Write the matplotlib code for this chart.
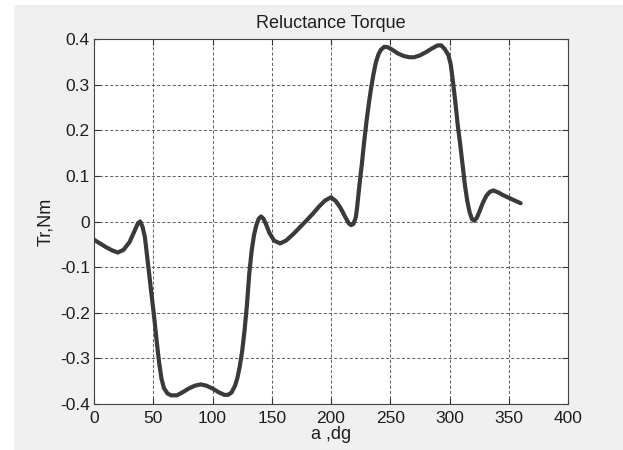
import numpy as np
import matplotlib
matplotlib.use("Agg")
import matplotlib.pyplot as plt
from matplotlib.patches import Rectangle

# Rotor angle (deg) and reluctance torque (Nm)
angle = [0, 5, 10, 15, 20, 25, 30, 34, 37, 39, 41, 43, 45, 47, 49, 51, 53, 55,
         57, 59, 62, 65, 70, 75, 80, 85, 90, 95, 100, 105, 110, 113, 116, 119,
         121, 123, 125, 127, 129, 131, 133, 135, 137, 139, 141, 143, 145, 148,
         152, 157, 162, 168, 174, 180, 185, 190, 195, 200, 204, 208, 212, 215,
         217, 219, 221, 222, 224, 226, 228, 230, 232, 234, 236, 238, 240, 242,
         245, 248, 252, 256, 261, 266, 270, 275, 280, 285, 290, 293, 296, 299,
         301, 303, 305, 307, 309, 311, 313, 315, 317, 319, 321, 323, 325, 328,
         331, 334, 337, 341, 345, 350, 355, 360]
torque = [-0.040, -0.048, -0.056, -0.063, -0.068, -0.062, -0.045, -0.022,
          -0.004, 0.000, -0.012, -0.035, -0.080, -0.125, -0.170, -0.215,
          -0.265, -0.310, -0.345, -0.365, -0.377, -0.381, -0.381, -0.374,
          -0.366, -0.360, -0.357, -0.360, -0.366, -0.374, -0.380, -0.380,
          -0.375, -0.360, -0.343, -0.318, -0.285, -0.240, -0.185, -0.115,
          -0.065, -0.030, -0.008, 0.006, 0.011, 0.006, -0.005, -0.025,
          -0.042, -0.048, -0.042, -0.028, -0.012, 0.004, 0.018, 0.033, 0.046,
          0.053, 0.045, 0.030, 0.010, -0.004, -0.008, -0.005, 0.010, 0.030,
          0.080, 0.125, 0.175, 0.220, 0.260, 0.295, 0.325, 0.350, 0.366,
          0.376, 0.383, 0.382, 0.376, 0.369, 0.363, 0.360, 0.360, 0.364,
          0.371, 0.379, 0.386, 0.386, 0.378, 0.365, 0.345, 0.305, 0.260,
          0.210, 0.170, 0.125, 0.080, 0.045, 0.020, 0.005, 0.002, 0.008,
          0.020, 0.040, 0.056, 0.065, 0.068, 0.064, 0.058, 0.052, 0.046,
          0.040]

xticks = [0, 50, 100, 150, 200, 250, 300, 350, 400]
yticks = [-0.4, -0.3, -0.2, -0.1, 0, 0.1, 0.2, 0.3, 0.4]
ytick_labels = ["-0.4", "-0.3", "-0.2", "-0.1", "0", "0.1", "0.2", "0.3", "0.4"]

plt.rcParams['font.family'] = ['Liberation Sans', 'DejaVu Sans']

fig = plt.figure(figsize=(6.23, 4.5), dpi=100, facecolor='white')
# grey window background (screenshot has a thin white margin left/top)
fig.patches.append(Rectangle((14 / 623, 0), 1, 445 / 450, transform=fig.transFigure,
                             facecolor='#f0f0f0', edgecolor='none', zorder=-10))

ax = fig.add_axes([94 / 623, 1 - 404 / 450, 474 / 623, 365 / 450])
ax.set_facecolor('white')

ax.plot(angle, torque, color='#3a3a3a', lw=3.0, solid_capstyle='round',
        solid_joinstyle='round', zorder=3)

ax.set_xlim(0, 400)
ax.set_ylim(-0.4, 0.4)
ax.set_xticks(xticks)
ax.set_yticks(yticks)
ax.set_yticklabels(ytick_labels)
ax.grid(True, color='#666666', linestyle=(0, (3, 2)), linewidth=0.75)

ax.tick_params(direction='in', length=4, width=0.8, color='#333333',
               top=True, right=True, labelsize=12.5, labelcolor='#1e1e1e', pad=5)
ax.tick_params(axis='y', pad=3)
for s in ax.spines.values():
    s.set_color('#444444')
    s.set_linewidth(0.8)

ax.set_title("Reluctance Torque", fontsize=13, color='#1e1e1e', pad=8)
ax.set_xlabel("a ,dg", fontsize=13, color='#1e1e1e', labelpad=0)
ax.set_ylabel("Tr,Nm", fontsize=13, color='#1e1e1e', labelpad=4)

fig.savefig("out.png", dpi=100, facecolor=fig.get_facecolor())
